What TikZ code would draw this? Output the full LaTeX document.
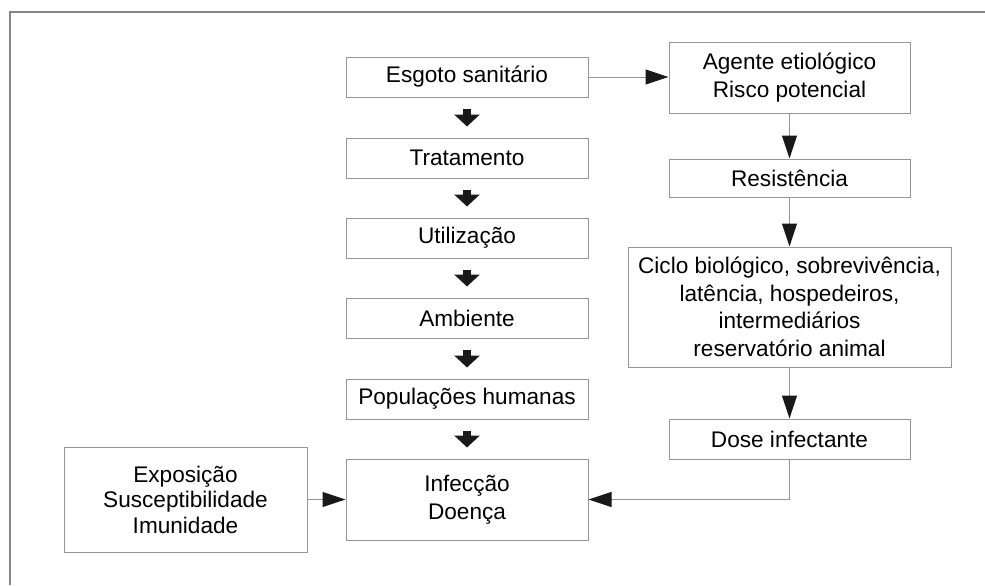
\documentclass[tikz,border=0pt]{standalone}
\usepackage{fontspec}
\setmainfont{Liberation Sans}
\usepackage{tikz}
\usetikzlibrary{
    arrows.meta,
    calc,
    positioning
}
\definecolor{boxgray}{RGB}{150,150,150}
\definecolor{framegray}{RGB}{135,135,135}
\tikzset{
    box/.style={draw=boxgray, line width=0.5pt, inner sep=0pt, align=center,
        font=\fontsize{11.3}{13.75}\selectfont},
    leftbox/.style={box, minimum width=121pt, minimum height=20pt},
    rightbox/.style={box, minimum width=120.5pt},
    blockarrow/.style={line width=4pt, black!90, -{Triangle[length=6pt,width=12.5pt]},
        shorten <=5.5pt, shorten >=5.5pt},
    thinarrow/.style={draw=boxgray, line width=0.5pt,
        -{Triangle[length=11.5pt,width=7.5pt,color=black!90]}}
}

\begin{document}
\begin{tikzpicture}[x=0.5pt, y=-0.5pt]
    \useasboundingbox (0, 0) rectangle (985, 585);
    \draw[framegray, line width=0.75pt] (985, 12) -- (10, 12) -- (10, 585);

    % left column
    \node[leftbox] (esgoto) at (467, 77) {Esgoto sanitário};
    \node[leftbox] (tratamento) at (467, 158) {Tratamento};
    \node[leftbox] (utilizacao) at (467, 238) {Utilização};
    \node[leftbox] (ambiente) at (467, 318) {Ambiente};
    \node[leftbox] (populacoes) at (467, 399) {Populações humanas};
    \node[leftbox, minimum height=40.5pt] (infeccao) at (467, 499.5) {Infecção\\Doença};
    \node[box, minimum width=121.5pt, minimum height=52.5pt,
        font=\fontsize{11.3}{12.75}\selectfont] (exposicao) at (185.5, 499.5)
        {Exposição\\Susceptibilidade\\Imunidade};

    % right column
    \node[rightbox, minimum height=35.5pt] (agente) at (789.5, 77.5) {Agente etiológico\\Risco potencial};
    \node[rightbox, minimum height=19pt] (resistencia) at (789.5, 178) {Resistência};
    \node[box, minimum width=161.5pt, minimum height=60pt] (ciclo) at (789.5, 307)
        {Ciclo biológico, sobrevivência,\\latência, hospedeiros,\\intermediários\\reservatório animal};
    \node[rightbox, minimum height=20pt] (dose) at (789.5, 439) {Dose infectante};

    \foreach \a/\b in {esgoto/tratamento, tratamento/utilizacao, utilizacao/ambiente,
        ambiente/populacoes, populacoes/infeccao} {
        \draw[blockarrow] (\a.south) -- (\b.north);
    }

    \draw[thinarrow] (esgoto.east) -- (agente.west |- esgoto.east);
    \draw[thinarrow] (agente) -- (resistencia);
    \draw[thinarrow] (resistencia) -- (ciclo);
    \draw[thinarrow] (ciclo) -- (dose);
    \draw[thinarrow] (dose.south) |- (infeccao.east);
    \draw[thinarrow] (exposicao) -- (infeccao);
\end{tikzpicture}
\end{document}
